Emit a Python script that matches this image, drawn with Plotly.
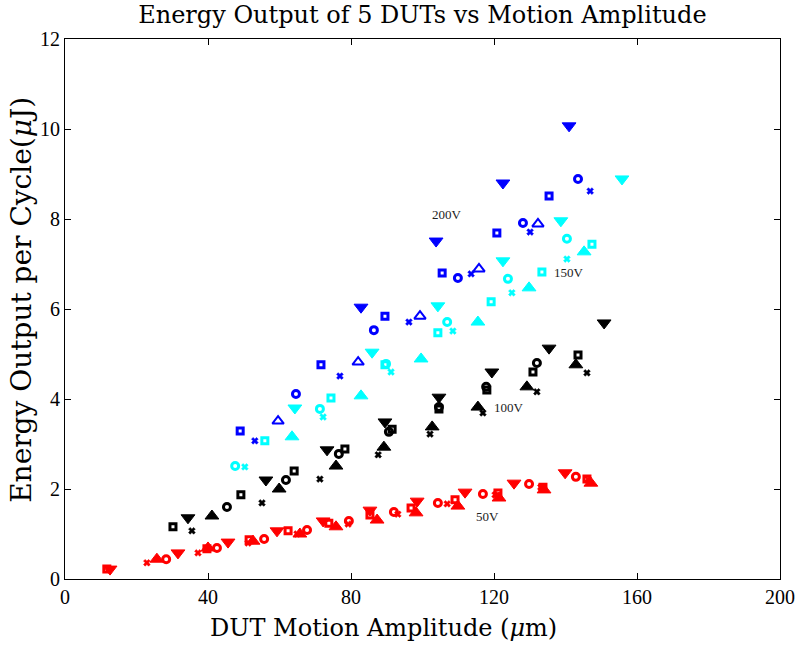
import plotly.graph_objects as go

# ---- data (x: DUT motion amplitude in um, y: energy per cycle in uJ) ----
# 50V (red)
r_sq_x = [11.7, 39.7, 51.5, 62.4, 73.8, 85.3, 96.8, 109.1, 121.1, 133.7, 146.0]
r_sq_y = [0.22, 0.67, 0.87, 1.07, 1.24, 1.42, 1.58, 1.76, 1.91, 2.04, 2.22]
r_x_x = [22.9, 37.2, 51.2, 64.9, 79.2, 93.1, 106.9, 120.3, 133.1, 146.3]
r_x_y = [0.36, 0.58, 0.80, 1.00, 1.22, 1.44, 1.67, 1.87, 2.04, 2.22]
r_ci_x = [28.3, 42.5, 55.7, 67.7, 79.4, 92.0, 104.3, 116.9, 129.8, 142.9]
r_ci_y = [0.44, 0.69, 0.89, 1.09, 1.29, 1.49, 1.69, 1.89, 2.11, 2.27]
r_tu_x = [25.7, 40.0, 52.6, 65.7, 75.8, 87.3, 98.2, 109.9, 121.4, 134.0, 147.1]
r_tu_y = [0.44, 0.69, 0.84, 1.00, 1.16, 1.31, 1.47, 1.62, 1.80, 1.98, 2.13]
r_td_x = [12.6, 31.6, 45.6, 59.3, 72.2, 85.3, 98.5, 111.9, 125.6, 139.9]
r_td_y = [0.22, 0.58, 0.82, 1.07, 1.29, 1.53, 1.73, 1.93, 2.13, 2.36]

# 100V (black)
k_sq_x = [30.2, 49.2, 64.1, 78.3, 91.5, 104.6, 118.0, 130.9, 143.5]
k_sq_y = [1.16, 1.87, 2.40, 2.89, 3.33, 3.78, 4.20, 4.60, 4.98]
k_x_x = [35.5, 55.1, 71.3, 87.6, 102.1, 116.9, 132.0, 146.0]
k_x_y = [1.07, 1.69, 2.22, 2.76, 3.22, 3.69, 4.16, 4.58]
k_ci_x = [45.3, 61.8, 76.6, 90.6, 104.6, 117.8, 132.0]
k_ci_y = [1.60, 2.20, 2.78, 3.27, 3.82, 4.27, 4.80]
k_tu_x = [41.1, 59.9, 75.8, 89.2, 102.7, 115.5, 129.2, 142.9]
k_tu_y = [1.40, 2.00, 2.51, 2.93, 3.38, 3.82, 4.27, 4.76]
k_td_x = [34.4, 56.2, 73.3, 89.5, 104.6, 119.4, 135.4, 150.8]
k_td_y = [1.36, 2.20, 2.87, 3.49, 4.04, 4.60, 5.13, 5.69]

# 150V (cyan)
c_sq_x = [55.9, 74.4, 89.5, 104.3, 119.2, 133.4, 147.4]
c_sq_y = [3.07, 4.02, 4.76, 5.47, 6.16, 6.82, 7.44]
c_x_x = [50.3, 72.2, 91.2, 108.5, 125.0, 140.4]
c_x_y = [2.49, 3.60, 4.60, 5.51, 6.36, 7.11]
c_ci_x = [47.6, 71.3, 89.8, 106.9, 123.9, 140.4]
c_ci_y = [2.51, 3.78, 4.78, 5.71, 6.67, 7.56]
c_tu_x = [63.5, 82.8, 99.6, 115.5, 129.8, 145.2]
c_tu_y = [3.16, 4.07, 4.89, 5.71, 6.47, 7.27]
c_td_x = [64.3, 85.9, 104.3, 122.5, 138.7, 155.8]
c_td_y = [3.80, 5.04, 6.07, 7.07, 7.96, 8.89]

# 200V (blue)
b_sq_x = [49.0, 71.6, 89.5, 105.5, 120.8, 135.4]
b_sq_y = [3.29, 4.76, 5.84, 6.80, 7.69, 8.51]
b_x_x = [53.1, 76.9, 96.2, 113.6, 130.1, 146.9]
b_x_y = [3.07, 4.51, 5.71, 6.78, 7.71, 8.62]
b_ci_x = [64.6, 86.4, 109.9, 128.1, 143.5]
b_ci_y = [4.11, 5.53, 6.69, 7.91, 8.89]
b_tu_x = [59.6, 82.0, 99.3, 115.8, 132.3]
b_tu_y = [3.51, 4.82, 5.84, 6.89, 7.89]
b_td_x = [82.8, 103.8, 122.5, 141.0]
b_td_y = [6.04, 7.51, 8.80, 10.07]

labels = ["200V", "150V", "100V", "50V"]
label_x = [106.9, 141.0, 124.2, 118.3]
label_y = [8.11, 6.82, 3.82, 1.38]

x_ticks = [0, 40, 80, 120, 160, 200]
y_ticks = [0, 2, 4, 6, 8, 10, 12]

FONT = "Liberation Serif"
TFONT = "DejaVu Serif"
fig = go.Figure()

groups = [
    ("red", r_sq_x, r_sq_y, r_x_x, r_x_y, r_ci_x, r_ci_y, r_tu_x, r_tu_y, r_td_x, r_td_y, False),
    ("black", k_sq_x, k_sq_y, k_x_x, k_x_y, k_ci_x, k_ci_y, k_tu_x, k_tu_y, k_td_x, k_td_y, False),
    ("cyan", c_sq_x, c_sq_y, c_x_x, c_x_y, c_ci_x, c_ci_y, c_tu_x, c_tu_y, c_td_x, c_td_y, False),
    ("blue", b_sq_x, b_sq_y, b_x_x, b_x_y, b_ci_x, b_ci_y, b_tu_x, b_tu_y, b_td_x, b_td_y, True),
]

def add(xs, ys, color, symbol, size, lw, fill):
    fig.add_trace(go.Scatter(
        x=xs, y=ys, mode="markers", showlegend=False,
        marker=dict(symbol=symbol, size=size, color=color if fill else "rgba(0,0,0,0)",
                    line=dict(color=color, width=lw))))

for (col, sqx, sqy, xx, xy, cx, cy, tux, tuy, tdx, tdy, open_tu) in groups:
    add(sqx, sqy, col, "square", 6, 3, False)
    add(xx, xy, col, "x", 6, 0.5, True)
    add(cx, cy, col, "circle", 7, 3, False)
    if open_tu:
        add(tux, tuy, col, "triangle-up", 10, 2, False)
    else:
        add(tux, tuy, col, "triangle-up", 12, 1, True)
    add(tdx, tdy, col, "triangle-down", 12, 1, True)

for t, lx, ly in zip(labels, label_x, label_y):
    fig.add_annotation(x=lx, y=ly, text=t, showarrow=False,
                       font=dict(family=FONT, size=13, color="#222"))

# axis titles placed as paper annotations
fig.add_annotation(xref="paper", yref="paper", x=0.446, y=0, yshift=-49,
                   xanchor="center", yanchor="middle",
                   text="DUT Motion Amplitude (<i>μ</i>m)", showarrow=False,
                   font=dict(family=TFONT, size=24, color="black"))
fig.add_annotation(xref="paper", yref="paper", x=0, xshift=-43, y=0.517,
                   xanchor="center", yanchor="middle",
                   text="Energy Output per Cycle(<i>μ</i>J)", showarrow=False, textangle=-90,
                   font=dict(family=TFONT, size=28, color="black"))

axis_common = dict(showgrid=False, zeroline=False, showline=True, linecolor="black",
                   linewidth=1.2, mirror="ticks", ticks="inside", ticklen=6,
                   tickcolor="black", automargin=False,
                   tickfont=dict(family=FONT, size=20, color="black"))

fig.update_layout(
    width=797, height=647,
    margin=dict(l=65, r=17, t=39, b=68),
    plot_bgcolor="white", paper_bgcolor="white",
    title=dict(text="Energy Output of 5 DUTs vs Motion Amplitude", x=0.53, xanchor="center",
               y=0.978, yanchor="middle", font=dict(family=TFONT, size=24, color="black")),
    xaxis=dict(range=[0, 200], tickvals=x_ticks, **axis_common),
    yaxis=dict(range=[0, 12], tickvals=y_ticks, **axis_common),
)

fig.write_html("out.html", config={"displayModeBar": False},
               post_script="document.body.style.margin='0';")
